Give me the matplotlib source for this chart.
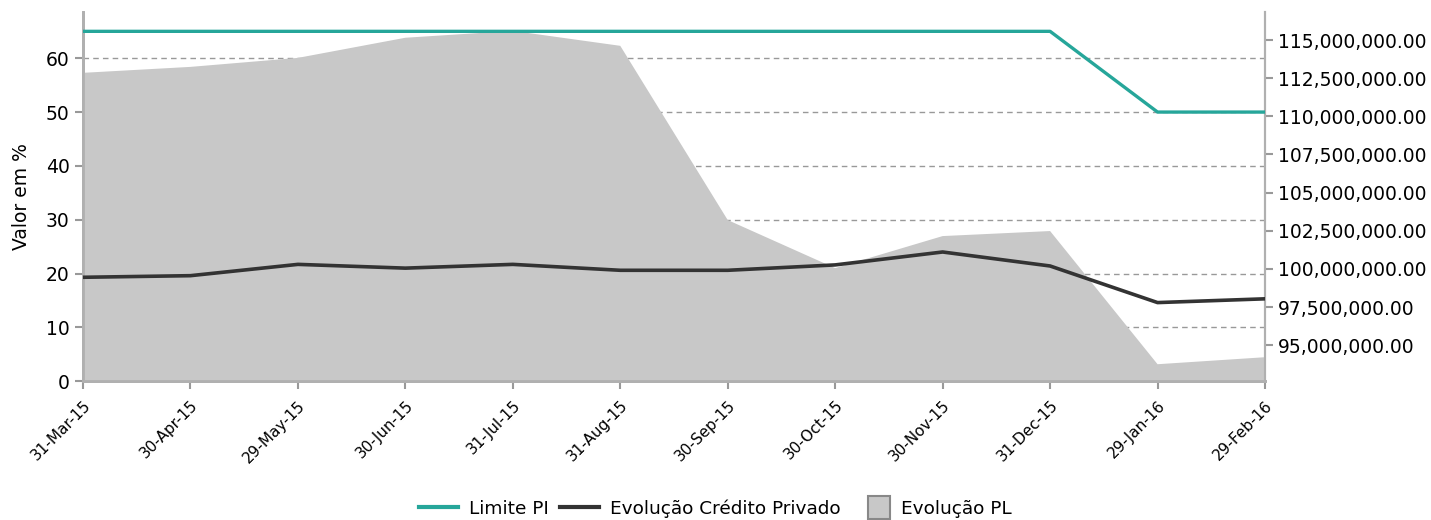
import matplotlib
matplotlib.use("Agg")
import matplotlib.pyplot as plt
from matplotlib.lines import Line2D
from matplotlib.patches import Patch, Rectangle
from matplotlib.legend_handler import HandlerPatch
from matplotlib.ticker import FuncFormatter

dates = ["31-Mar-15", "30-Apr-15", "29-May-15", "30-Jun-15", "31-Jul-15", "31-Aug-15",
         "30-Sep-15", "30-Oct-15", "30-Nov-15", "31-Dec-15", "29-Jan-16", "29-Feb-16"]
limite_pi = [65, 65, 65, 65, 65, 65, 65, 65, 65, 65, 50, 50]
credito_privado = [19.3, 19.6, 21.7, 21.0, 21.7, 20.6, 20.6, 21.6, 24.0, 21.4, 14.6, 15.3]
evolucao_pl = [112.85e6, 113.24e6, 113.83e6, 115.15e6, 115.6e6, 114.62e6,
               103.2e6, 100.05e6, 102.15e6, 102.48e6, 93.75e6, 94.21e6]

green = "#26a69a"
dark = "#333333"
area_c = "#c8c8c8"
spine_c = "#b0b0b0"

x = list(range(len(dates)))

fig = plt.figure(figsize=(14.31, 5.2), dpi=100)
ax = fig.add_axes([0.058, 0.267, 0.826, 0.71])
ax_pl = ax.twinx()
ax_ln = ax.twinx()

# left axis: grid + ticks
ax.set_ylim(0, 68.6)
ax.set_yticks([0, 10, 20, 30, 40, 50, 60])
ax.set_xlim(0, len(dates) - 1)
ax.yaxis.grid(True, linestyle=(0, (4, 3)), color="#999999", linewidth=1)
ax.set_axisbelow(True)
ax.set_ylabel("Valor em %", fontsize=13.5, labelpad=11)
ax.tick_params(axis="y", labelsize=13.5, color="#999999", length=6, width=1.5)
ax.set_xticks(x)
ax.set_xticklabels(dates, rotation=45, ha="right", va="top", rotation_mode="anchor", fontsize=11)
ax.tick_params(axis="x", color="#999999", length=6, width=1.5, pad=6)

# right axis: area
ax_pl.fill_between(x, evolucao_pl, 0, color=area_c, linewidth=0)
ax_pl.set_ylim(92.64e6, 116.84e6)
ax_pl.set_yticks([95e6, 97.5e6, 100e6, 102.5e6, 105e6, 107.5e6, 110e6, 112.5e6, 115e6])
ax_pl.yaxis.set_major_formatter(FuncFormatter(lambda v, p: f"{v:,.2f}"))
ax_pl.tick_params(axis="y", labelsize=13.5, color="#999999", length=6, width=1.5)

# lines on top
ax_ln.plot(x, limite_pi, color=green, linewidth=2.4)
ax_ln.plot(x, credito_privado, color=dark, linewidth=2.6)
ax_ln.set_ylim(ax.get_ylim())
ax_ln.set_yticks([])
ax_ln.set_xlim(ax.get_xlim())

for a in (ax, ax_pl, ax_ln):
    a.spines["top"].set_visible(False)
    a.spines["left"].set_color(spine_c)
    a.spines["left"].set_linewidth(2)
    a.spines["bottom"].set_color(spine_c)
    a.spines["bottom"].set_linewidth(2)
    a.spines["right"].set_color(spine_c)
    a.spines["right"].set_linewidth(1.5)
ax_ln.spines["right"].set_visible(False)
ax_ln.spines["left"].set_visible(False)
ax_ln.spines["bottom"].set_visible(False)
ax_ln.patch.set_visible(False)
ax_pl.patch.set_visible(False)


# square legend box for the area, sitting right next to its text
def square_patch(legend, orig_handle, xdescent, ydescent, width, height, fontsize):
    s = 16
    return Rectangle((-xdescent + width - s, -ydescent + (height - s) / 2), s, s)


handles = [
    Line2D([], [], color=green, linewidth=3),
    Line2D([], [], color=dark, linewidth=3),
    Patch(facecolor=area_c, edgecolor="#888888", linewidth=1.5),
]
labels = ["Limite PI", "Evolução Crédito Privado", "Evolução PL"]
fig.legend(handles, labels, loc="lower center", bbox_to_anchor=(0.5, -0.028), ncol=3,
           frameon=False, fontsize=13.3, handlelength=2.1, columnspacing=0.6, handletextpad=0.6,
           handler_map={Patch: HandlerPatch(patch_func=square_patch)})

fig.savefig("out.png", dpi=100)
